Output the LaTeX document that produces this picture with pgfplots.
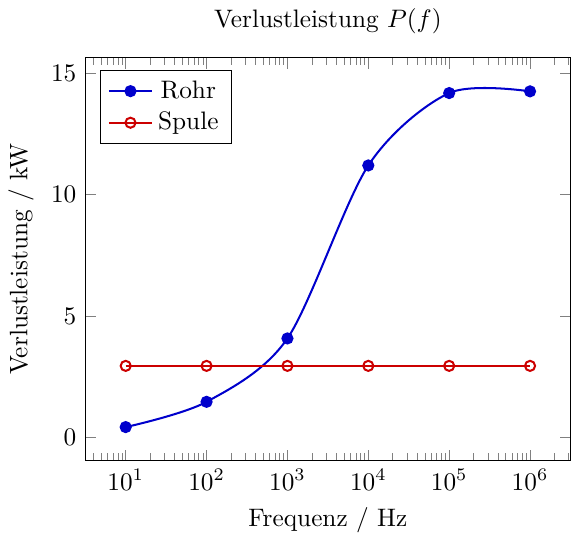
\documentclass[border=0pt]{standalone}
\usepackage{pgfplots}
\pgfplotsset{compat=1.18}
\begin{document}
\begin{tikzpicture}
  \begin{semilogxaxis}[
      width=237pt,
      title={Verlustleistung $P(f)$},
      xlabel={Frequenz / Hz},
      ylabel={Verlustleistung / kW},
      legend pos=north west,
      ytick={0,5,10,15},
    ]
    \addplot[blue!80!black, thick, smooth, mark=*]
      coordinates {(10,0.43)(100,1.47)(1000,4.08)(10000,11.2)(100000,14.18)(1000000,14.25)};
    \addlegendentry{Rohr}
    \addplot[red!80!black, thick, mark=o]
      coordinates {(10,2.95)(100,2.95)(1000,2.95)(10000,2.95)(100000,2.95)(1000000,2.95)};
    \addlegendentry{Spule}
  \end{semilogxaxis}
\end{tikzpicture}
\end{document}
